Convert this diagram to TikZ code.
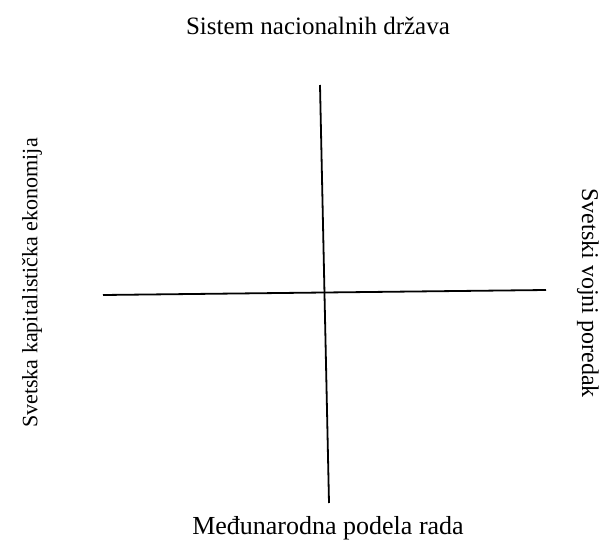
\documentclass[tikz,border=0pt]{standalone}
\usepackage{fontspec}
\setmainfont{Liberation Serif}
\tikzset{
axis/.style={line width=1.8pt, black},
label/.style={inner sep=0pt},
}

\begin{document}
\begin{tikzpicture}[x=1pt, y=-1pt]
\useasboundingbox (0, 0) rectangle (606, 549);
\coordinate (top) at (320, 85);
\coordinate (bottom) at (329, 503);
\coordinate (left) at (103, 295);
\coordinate (right) at (546, 290);
\draw[axis] (top) -- (bottom);
\draw[axis] (left) -- (right);
\node[label, font=\fontsize{25}{30}\selectfont] (nationstates) at (318, 26) {Sistem nacionalnih država};
\node[label, font=\fontsize{26}{31}\selectfont] (labourdivision) at (328, 528) {Međunarodna podela rada};
\node[label, font=\fontsize{22}{26}\selectfont, rotate=90] (economy) at (32, 283) {Svetska kapitalistička ekonomija};
\node[label, font=\fontsize{24}{29}\selectfont, rotate=-90] (military) at (588, 293) {Svetski vojni poredak};
\end{tikzpicture}
\end{document}
